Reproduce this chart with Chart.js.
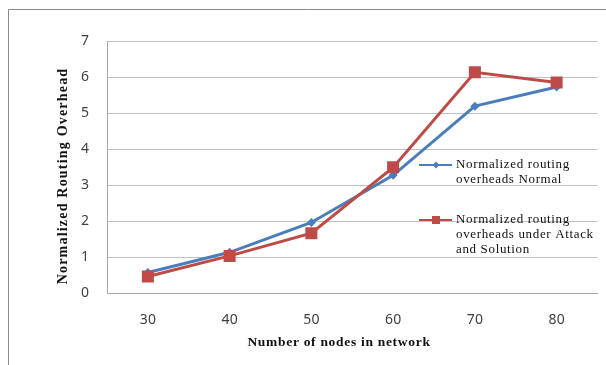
<!DOCTYPE html>
<html>
<head>
<meta charset="utf-8">
<script src="https://cdn.jsdelivr.net/npm/chart.js@4"></script>
<style>
  html, body { margin: 0; padding: 0; background: #fff; }
  #wrap { position: relative; width: 606px; height: 365px; overflow: hidden; }
</style>
</head>
<body>
<div id="wrap"><canvas id="overheadChart" width="606" height="365"></canvas></div>
<script>
const nodes = ["30", "40", "50", "60", "70", "80"];
const normalOverhead = [0.57, 1.13, 1.96, 3.27, 5.19, 5.72];
const attackOverhead = [0.46, 1.03, 1.66, 3.49, 6.13, 5.85];
const yTicks = [0, 1, 2, 3, 4, 5, 6, 7];

const legendItems = [
  { lines: ["Normalized routing", "overheads Normal"], color: "#4a7ebb", marker: "diamond" },
  { lines: ["Normalized routing", "overheads under Attack", "and Solution"], color: "#be4b48", marker: "square" }
];

// frame, axis titles and the in-plot legend
const decorations = {
  id: "decorations",
  beforeDraw(chart) {
    const ctx = chart.ctx;
    ctx.save();
    ctx.fillStyle = "#fff";
    ctx.fillRect(0, 0, chart.width, chart.height);
    ctx.strokeStyle = "#8c8c8c";
    ctx.lineWidth = 1;
    ctx.beginPath();
    ctx.moveTo(8.5, 366);
    ctx.lineTo(8.5, 9.5);
    ctx.lineTo(610, 9.5);
    ctx.stroke();
    ctx.restore();
  },
  afterDraw(chart) {
    const ctx = chart.ctx;
    ctx.save();
    ctx.fillStyle = "#111";
    ctx.textAlign = "center";
    ctx.textBaseline = "middle";
    ctx.font = "bold 13.5px 'Liberation Serif', 'Times New Roman', serif";
    ctx.letterSpacing = "0.7px";
    ctx.fillText("Number of nodes in network", 339, 343);
    ctx.font = "bold 14px 'Liberation Serif', 'Times New Roman', serif";
    ctx.letterSpacing = "1.2px";
    ctx.translate(63, 176);
    ctx.rotate(-Math.PI / 2);
    ctx.fillText("Normalized Routing Overhead", 0, 0);
    ctx.restore();

    ctx.save();
    ctx.font = "13px 'Liberation Serif', 'Times New Roman', serif";
    ctx.letterSpacing = "0.65px";
    ctx.textBaseline = "middle";
    let y = 165;
    legendItems.forEach((item, i) => {
      if (i > 0) y = 220;
      ctx.strokeStyle = item.color;
      ctx.lineWidth = 2;
      ctx.beginPath();
      ctx.moveTo(419, y);
      ctx.lineTo(452, y);
      ctx.stroke();
      ctx.fillStyle = item.color;
      if (item.marker === "diamond") {
        ctx.beginPath();
        ctx.moveTo(436, y - 3.5);
        ctx.lineTo(439.5, y);
        ctx.lineTo(436, y + 3.5);
        ctx.lineTo(432.5, y);
        ctx.closePath();
        ctx.fill();
      } else {
        ctx.fillRect(432, y - 4, 8, 8);
      }
      ctx.fillStyle = "#111";
      item.lines.forEach((t, k) => ctx.fillText(t, 456, y + k * 15));
    });
    ctx.restore();
  }
};

new Chart(document.getElementById("overheadChart"), {
  type: "line",
  data: {
    labels: nodes,
    datasets: [
      {
        label: "Normalized routing overheads Normal",
        data: normalOverhead,
        borderColor: "#4a7ebb",
        backgroundColor: "#4a7ebb",
        borderWidth: 3,
        pointStyle: "rectRot",
        pointRadius: 4.5,
        pointBorderWidth: 0,
        tension: 0,
        order: 1
      },
      {
        label: "Normalized routing overheads under Attack and Solution",
        data: attackOverhead,
        borderColor: "#be4b48",
        backgroundColor: "#be4b48",
        borderWidth: 3,
        pointStyle: "rect",
        pointRadius: 8.5,
        pointBorderWidth: 0,
        tension: 0,
        order: 0
      }
    ]
  },
  options: {
    responsive: false,
    animation: false,
    layout: { padding: { left: 0, right: 3, top: 41, bottom: 0 } },
    plugins: {
      legend: { display: false },
      tooltip: { enabled: false }
    },
    scales: {
      x: {
        offset: true,
        grid: { display: false, drawTicks: false },
        border: { color: "#a6a6a6", width: 1 },
        ticks: {
          padding: 19,
          color: "#404040",
          font: { family: "'Noto Sans', 'Liberation Sans', sans-serif", size: 14 }
        },
        afterFit(scale) { scale.height = 72; }
      },
      y: {
        min: 0,
        max: 7,
        afterBuildTicks(scale) { scale.ticks = yTicks.map(v => ({ value: v })); },
        grid: { color: "#c0c0c0", lineWidth: 1, drawTicks: false },
        border: { color: "#a6a6a6", width: 1 },
        ticks: {
          padding: 18,
          color: "#404040",
          font: { family: "'Noto Sans', 'Liberation Sans', sans-serif", size: 14 }
        },
        afterFit(scale) { scale.width = 107; }
      }
    }
  },
  plugins: [decorations]
});
</script>
</body>
</html>
